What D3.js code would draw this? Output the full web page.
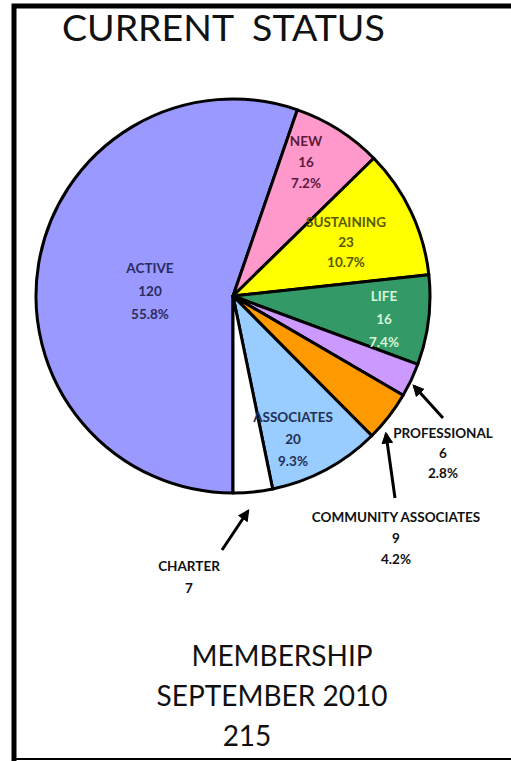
<!DOCTYPE html>
<html>
<head>
<meta charset="utf-8">
<script src="https://cdn.jsdelivr.net/npm/d3@7"></script>
<style>
  body { margin: 0; background: #fff; }
  text { font-family: Lato, "Open Sans", sans-serif; }
</style>
</head>
<body>
<script>
// membership counts, clockwise from the bottom of the pie
let categories = ['ACTIVE', 'NEW', 'SUSTAINING', 'LIFE', 'PROFESSIONAL',
    'COMMUNITY ASSOCIATES', 'ASSOCIATES', 'CHARTER'];
let counts = [120, 16, 23, 16, 6, 9, 20, 7];
let percents = ['55.8%', '7.2%', '10.7%', '7.4%', '2.8%', '4.2%', '9.3%', ''];
let colors = ['#9999ff', '#ff99cc', '#ffff00', '#339966', '#cc99ff',
    '#ff9900', '#99ccff', '#ffffff'];
let textColors = ['#2b2b5e', '#5c1a3c', '#5a5a00', '#d8f5d8', '#111',
    '#111', '#1f2f55', '#111'];

let title = 'CURRENT\u00a0\u00a0STATUS';
let footer = ['MEMBERSHIP', 'SEPTEMBER 2010', '215'];

// hand placed label spots (label centre x, first line y, line gap)
let labelPos = [
    [150, 268, 23], [306, 141, 21], [346, 222, 20], [384, 296, 23],
    [443, 433, 20], [396, 517, 21], [293, 417, 22], [189, 566, 22]
];
// arrows: [x1, y1, x2, y2], head at the second point
let arrows = [[443, 418, 414, 386], [395, 498, 386, 434], [222, 550, 248, 511]];

let width = 511, height = 761;
let cx = 233, cy = 296, radius = 197;

let svg = d3.select('body').append('svg')
    .attr('width', width)
    .attr('height', height);

svg.append('defs').append('marker')
    .attr('id', 'head')
    .attr('viewBox', '0 0 10 10')
    .attr('refX', 8).attr('refY', 5)
    .attr('markerWidth', 4).attr('markerHeight', 4)
    .attr('orient', 'auto')
    .append('path')
    .attr('d', 'M0,0 L10,5 L0,10 Z')
    .attr('fill', '#000');

// frame
svg.append('path')
    .attr('d', 'M14,761 L14,6 L511,6')
    .attr('fill', 'none')
    .attr('stroke', '#000')
    .attr('stroke-width', 5);
svg.append('line')
    .attr('x1', 14).attr('x2', 511)
    .attr('y1', 759).attr('y2', 759)
    .attr('stroke', '#000')
    .attr('stroke-width', 2);

svg.append('text')
    .attr('x', 62).attr('y', 41)
    .attr('font-size', 37.5)
    .attr('fill', '#111')
    .text(title);

let pie = d3.pie()
    .sort(null)
    .startAngle(Math.PI)
    .endAngle(3 * Math.PI);

let arc = d3.arc()
    .innerRadius(0)
    .outerRadius(radius);

let g = svg.append('g')
    .attr('transform', `translate(${cx}, ${cy})`);

g.selectAll('.slice')
    .data(pie(counts))
    .enter().append('path')
    .attr('class', 'slice')
    .attr('d', arc)
    .attr('fill', (d, i) => colors[i])
    .attr('stroke', '#000')
    .attr('stroke-width', 3)
    .attr('stroke-linejoin', 'round');

let labels = svg.selectAll('.label')
    .data(categories)
    .enter().append('text')
    .attr('class', 'label')
    .attr('text-anchor', 'middle')
    .attr('font-size', 13.5)
    .attr('font-weight', 'bold')
    .attr('fill', (d, i) => textColors[i]);

labels.each(function(d, i) {
    let p = labelPos[i];
    let lines = [d, counts[i], percents[i]].filter(s => s !== '');
    d3.select(this).selectAll('tspan')
        .data(lines)
        .enter().append('tspan')
        .attr('x', p[0])
        .attr('y', (s, j) => p[1] + j * p[2])
        .attr('dy', '0.35em')
        .text(s => s);
});

svg.selectAll('.arrow')
    .data(arrows)
    .enter().append('line')
    .attr('class', 'arrow')
    .attr('x1', d => d[0]).attr('y1', d => d[1])
    .attr('x2', d => d[2]).attr('y2', d => d[3])
    .attr('stroke', '#000')
    .attr('stroke-width', 3)
    .attr('marker-end', 'url(#head)');

let footX = [282, 272, 247];
let footY = [666, 706, 746];
svg.selectAll('.foot')
    .data(footer)
    .enter().append('text')
    .attr('class', 'foot')
    .attr('text-anchor', 'middle')
    .attr('x', (d, i) => footX[i])
    .attr('y', (d, i) => footY[i])
    .attr('font-size', 28)
    .attr('fill', '#111')
    .text(d => d);
</script>
</body>
</html>
